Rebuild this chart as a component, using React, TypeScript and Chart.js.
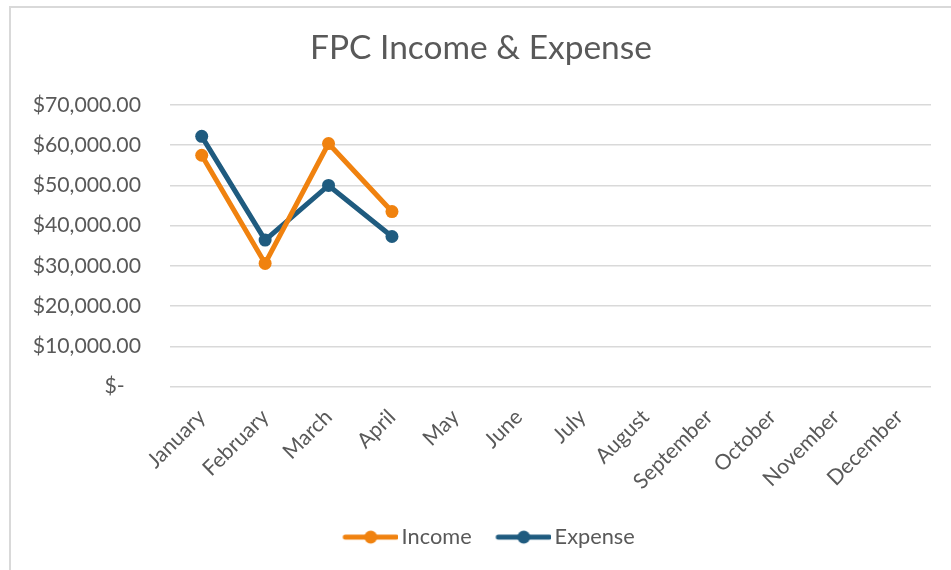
import React, { useEffect, useRef } from "react";
import { Chart, registerables } from "chart.js";

Chart.register(...registerables);

// ---- data ----
const MONTHS = [
  "January", "February", "March", "April", "May", "June",
  "July", "August", "September", "October", "November", "December",
];
const INCOME: (number | null)[] = [57500, 30600, 60400, 43500, null, null, null, null, null, null, null, null];
const EXPENSE: (number | null)[] = [62200, 36400, 50000, 37300, null, null, null, null, null, null, null, null];
const Y_MIN = 0;
const Y_MAX = 70000;
const Y_STEP = 10000;
const TITLE = "FPC Income & Expense";
const SERIES_NAMES = ["Income", "Expense"];

// ---- style ----
const FONT = "Lato, 'Open Sans', sans-serif";
const TEXT = "#595959";
const GRID = "#D9D9D9";
const ORANGE = "#F0820F";
const BLUE = "#1F5B7F";
const W = 951;
const H = 570;

function fitSize(text: string, width: number): number {
  const ctx = document.createElement("canvas").getContext("2d")!;
  ctx.font = `100px ${FONT}`;
  return (100 * width) / ctx.measureText(text).width;
}

function makeMarker(color: string, lineLen: number, startX: number, totalW: number) {
  const c = document.createElement("canvas");
  c.width = Math.round(totalW);
  c.height = 16;
  const g = c.getContext("2d")!;
  g.strokeStyle = color;
  g.lineWidth = 5;
  g.lineCap = "round";
  g.beginPath();
  g.moveTo(startX + 2.5, 8);
  g.lineTo(startX + lineLen - 2.5, 8);
  g.stroke();
  g.fillStyle = color;
  g.beginPath();
  g.arc(startX + lineLen / 2, 8, 6.5, 0, Math.PI * 2);
  g.fill();
  return c;
}

const fmtMoney = (v: number) =>
  v === 0
    ? "$-   "
    : "$" + v.toLocaleString("en-US", { minimumFractionDigits: 2, maximumFractionDigits: 2 });

export default function App() {
  const ref = useRef<HTMLCanvasElement | null>(null);

  useEffect(() => {
    const canvas = ref.current!;
    const tickSize = fitSize("$70,000.00", 108.4);
    const titleSize = fitSize(TITLE, 342);
    const legendSize = fitSize("IncomeExpense", 150);

    // legend geometry
    const LINE = 56;
    const a = 3.75;
    const boxW = LINE + 2 * a;
    const s = 2 * a + legendSize / 2 - 3;
    const legPad = Math.max(2, 24 - s);
    const imgW = 2 * Math.max(boxW / 2, s + LINE - boxW / 2);
    const markerStartInImg = imgW / 2 - boxW / 2 + s;
    const markers = [
      makeMarker(ORANGE, LINE, markerStartInImg, imgW),
      makeMarker(BLUE, LINE, markerStartInImg, imgW),
    ];

    const PAD_L = 31;
    const PAD_R = 20;
    const PAD_B = 12;
    const PLOT_LEFT = 170;
    const PLOT_BOTTOM = 386.5;

    const bgPlugin = {
      id: "bgBorder",
      beforeDraw(chart: any) {
        const c = chart.ctx;
        c.save();
        c.fillStyle = "#fff";
        c.fillRect(0, 0, chart.width, chart.height);
        c.strokeStyle = GRID;
        c.lineWidth = 2;
        c.strokeRect(10, 7, 2000, 2000);
        c.restore();
      },
    };

    const chart = new Chart(canvas, {
      type: "line",
      data: {
        labels: MONTHS,
        datasets: [
          {
            label: SERIES_NAMES[0],
            data: INCOME,
            borderColor: ORANGE,
            backgroundColor: ORANGE,
            borderWidth: 5,
            pointRadius: 6.5,
            pointHoverRadius: 6.5,
            pointBorderWidth: 0,
            pointBackgroundColor: ORANGE,
            tension: 0,
          },
          {
            label: SERIES_NAMES[1],
            data: EXPENSE,
            borderColor: BLUE,
            backgroundColor: BLUE,
            borderWidth: 5,
            pointRadius: 6.5,
            pointHoverRadius: 6.5,
            pointBorderWidth: 0,
            pointBackgroundColor: BLUE,
            tension: 0,
          },
        ],
      },
      options: {
        responsive: false,
        animation: false,
        devicePixelRatio: 1,
        layout: { padding: { left: PAD_L, right: PAD_R, top: 0, bottom: PAD_B } },
        plugins: {
          tooltip: { enabled: false },
          title: {
            display: true,
            text: TITLE,
            color: TEXT,
            font: { family: FONT, size: titleSize, weight: "normal", lineHeight: 1.2 },
            padding: { top: 28.5, bottom: 105 - 28.5 - titleSize * 1.2 },
          },
          legend: {
            display: true,
            position: "bottom",
            labels: {
              usePointStyle: true,
              pointStyleWidth: boxW,
              boxHeight: 16,
              padding: legPad,
              color: TEXT,
              font: { family: FONT, size: legendSize },
              generateLabels: (ch: any) =>
                (Chart.defaults.plugins.legend.labels as any)
                  .generateLabels(ch)
                  .map((l: any, i: number) => ({ ...l, pointStyle: markers[i] })),
            },
          },
        },
        scales: {
          x: {
            type: "category",
            offset: true,
            grid: { display: false, drawTicks: false },
            border: { display: false },
            ticks: {
              autoSkip: false,
              minRotation: 45,
              maxRotation: 45,
              padding: 18,
              color: TEXT,
              font: { family: FONT, size: tickSize },
            },
            afterFit: (sc: any) => {
              const lg = sc.chart.legend;
              const lh = lg && lg.height ? lg.height : 50;
              sc.height = H - PAD_B - lh - PLOT_BOTTOM;
            },
          },
          y: {
            min: Y_MIN,
            max: Y_MAX,
            grid: { color: GRID, lineWidth: 1.5, drawTicks: false },
            border: { display: false },
            ticks: {
              stepSize: Y_STEP,
              padding: 29,
              color: TEXT,
              font: { family: FONT, size: tickSize },
              callback: (v: any) => fmtMoney(Number(v)),
            },
            afterFit: (sc: any) => {
              sc.width = PLOT_LEFT - PAD_L;
            },
          },
        },
      },
      plugins: [bgPlugin],
    } as any);

    return () => chart.destroy();
  }, []);

  return (
    <div style={{ position: "fixed", left: 0, top: 0, width: W, height: H, background: "#fff" }}>
      <canvas ref={ref} width={W} height={H} style={{ display: "block", width: W, height: H }} />
    </div>
  );
}
